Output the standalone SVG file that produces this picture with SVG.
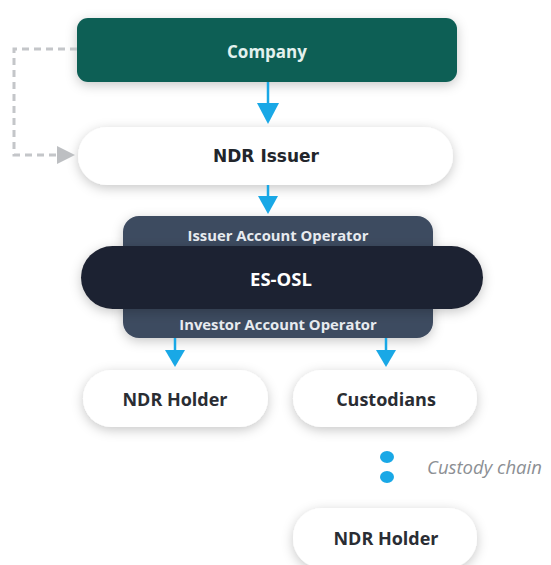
<svg xmlns="http://www.w3.org/2000/svg" width="551" height="565" viewBox="0 0 551 565">
  <style>
    .lbl { font-family: "Open Sans", "Liberation Sans", sans-serif; font-weight: 700; text-anchor: middle; dominant-baseline: central; }
    .dark { fill: #2a2d33; font-size: 18px; }
    .op { fill: #e8ebf0; font-size: 14.8px; }
    .verd { font-family: "DejaVu Sans", Verdana, sans-serif; }
    .flow { stroke: #19a8e6; stroke-width: 2.5; fill: none; }
    .pill { fill: #ffffff; filter: url(#shadow); }
  </style>
  <defs>
    <filter id="shadow" x="-20%" y="-40%" width="140%" height="190%">
      <feDropShadow dx="0" dy="3" stdDeviation="6" flood-color="#000000" flood-opacity="0.22"/>
    </filter>
  </defs>

  <rect width="551" height="565" fill="#ffffff"/>

  <!-- nodes -->
  <g id="company">
    <rect x="77" y="18" width="380" height="64" rx="11" fill="#0f5e55" filter="url(#shadow)"/>
    <text class="lbl" x="267" y="51" style="font-size:17px" fill="#e3f1ee">Company</text>
  </g>

  <g id="ndr-issuer">
    <rect class="pill" x="78" y="127" width="375" height="58" rx="29"/>
    <text class="lbl verd" x="266" y="156" style="font-size:17px" fill="#22252b">NDR Issuer</text>
  </g>

  <g id="account-operator">
    <rect x="123" y="216" width="310" height="122" rx="16" fill="#3e4b60" filter="url(#shadow)"/>
    <text class="lbl op" x="278" y="235">Issuer Account Operator</text>
    <text class="lbl op" x="278" y="324">Investor Account Operator</text>
  </g>

  <g id="es-osl">
    <rect x="81" y="246" width="402" height="63" rx="31.5" fill="#1f2431" filter="url(#shadow)"/>
    <text class="lbl" x="281" y="278" style="font-size:18.5px" fill="#ffffff">ES-OSL</text>
  </g>

  <g id="ndr-holder-direct">
    <rect class="pill" x="83" y="370" width="185" height="57" rx="28.5"/>
    <text class="lbl dark" x="175" y="399">NDR Holder</text>
  </g>

  <g id="custodians">
    <rect class="pill" x="293" y="370" width="184" height="57" rx="28.5"/>
    <text class="lbl dark" x="386" y="399">Custodians</text>
  </g>

  <g id="custody-chain">
    <ellipse cx="387" cy="457" rx="7" ry="6" fill="#19a8e6"/>
    <ellipse cx="387" cy="477" rx="7" ry="6" fill="#19a8e6"/>
    <text x="427" y="474" font-family="'Open Sans', 'Liberation Sans', sans-serif" font-style="italic" font-size="18.5" fill="#8c8f94">Custody chain</text>
  </g>

  <g id="ndr-holder-chain">
    <rect class="pill" x="293" y="508" width="184" height="60" rx="29"/>
    <text class="lbl dark" x="386" y="538">NDR Holder</text>
  </g>

  <!-- connectors -->
  <g id="connectors">
    <path class="flow" d="M268,82 V103"/>
    <path d="M257,103 L279,103 L268,124 Z" fill="#19a8e6"/>
    <path class="flow" d="M268,185 V196"/>
    <path d="M258,196 L278,196 L268,214 Z" fill="#19a8e6"/>
    <path class="flow" d="M175,338 V350"/>
    <path d="M165,350 L185,350 L175,367 Z" fill="#19a8e6"/>
    <path class="flow" d="M386,338 V350"/>
    <path d="M376,350 L396,350 L386,367 Z" fill="#19a8e6"/>
    <path d="M77,49 H14 V155 H57" fill="none" stroke="#c4c6c9" stroke-width="3" stroke-dasharray="7,5"/>
    <path d="M57,146 L75,155 L57,164 Z" fill="#bdbfc2"/>
  </g>
</svg>
